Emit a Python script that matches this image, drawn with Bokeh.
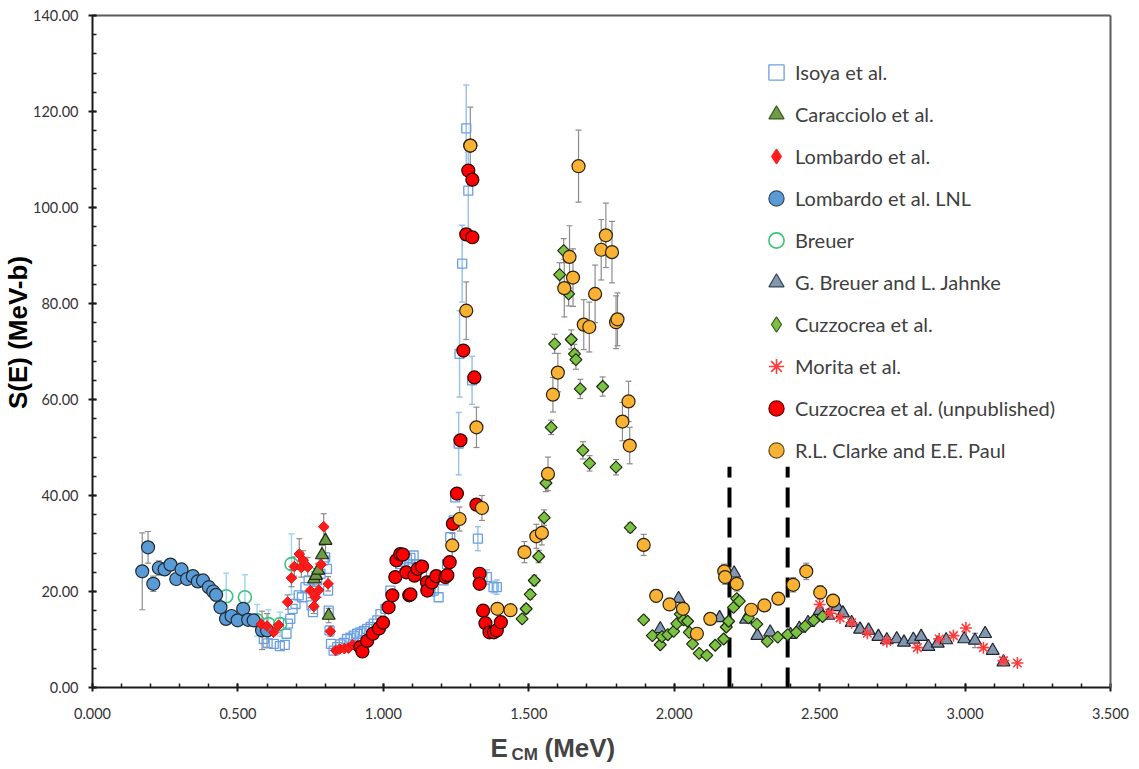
import math
from bokeh.plotting import figure
from bokeh.models import (ColumnDataSource, Whisker, TeeHead, Legend, LegendItem, Label,
                          Range1d, FixedTicker, NumeralTickFormatter, LinearAxis)
from bokeh.embed import file_html
from bokeh.resources import INLINE

# ---------------- data ----------------
isoya_x = [0.589, 0.602, 0.623, 0.644, 0.661, 0.667, 0.672, 0.680, 0.688, 0.698, 0.709, 0.720, 0.732, 0.743,
           0.753, 0.758, 0.772, 0.784, 0.795, 0.800, 0.806, 0.810, 0.812, 0.815, 0.820, 0.829, 0.841, 0.852,
           0.864, 0.875, 0.887, 0.898, 0.910, 0.921, 0.933, 0.944, 0.956, 0.967, 0.979, 0.990, 1.007, 1.024,
           1.041, 1.058, 1.070, 1.081, 1.093, 1.104, 1.115, 1.133, 1.150, 1.162, 1.173, 1.190, 1.207, 1.219,
           1.230, 1.242, 1.247, 1.259, 1.262, 1.271, 1.285, 1.292, 1.305, 1.325, 1.356, 1.379, 1.390]
isoya_y = [10.1, 9.2, 9.1, 8.6, 8.9, 11.2, 13.3, 14.3, 16.4, 17.4, 19.2, 18.8, 20.9, 22.3,
           17.1, 15.7, 22.3, 23.7, 26.5, 27.1, 24.7, 20.2, 16.0, 11.9, 9.1, 7.7, 8.4, 9.0,
           9.3, 10.1, 10.4, 10.8, 11.2, 11.5, 11.8, 12.2, 12.6, 13.3, 14.0, 15.3, 16.4, 20.2,
           23.0, 25.7, 26.2, 26.7, 27.0, 27.5, 25.7, 23.3, 20.9, 20.0, 20.2, 18.8, 22.3, 25.7,
           31.3, 34.8, 39.6, 50.8, 69.5, 88.3, 116.5, 103.5, 64.0, 31.0, 23.0, 20.9, 20.9]
isoya_err = [0] * 59 + [6.5, 9.0, 8.0, 9.0, 8.0, 5.0, 2.5, 1.5, 1.2, 1.5]

caracciolo_x = [0.762, 0.768, 0.776, 0.789, 0.801, 0.812]
caracciolo_y = [22.6, 23.3, 24.4, 27.6, 30.6, 15.0]
caracciolo_err = [1.5, 1.5, 1.5, 2.0, 2.5, 1.5]

lombardo_x = [0.580, 0.600, 0.623, 0.640, 0.671, 0.684, 0.694, 0.711, 0.718, 0.724, 0.740, 0.749, 0.761,
              0.766, 0.778, 0.786, 0.795, 0.810, 0.818, 0.836, 0.850, 0.866, 0.880, 0.895, 0.910]
lombardo_y = [13.2, 12.8, 11.5, 13.0, 17.8, 22.8, 25.2, 27.8, 25.0, 26.5, 25.1, 20.2, 16.9,
              18.8, 20.3, 25.6, 33.5, 21.6, 11.7, 7.7, 8.0, 8.1, 8.2, 8.9, 8.7]
lombardo_err = [0, 0, 0, 0, 1.5, 1.8, 2.0, 3.2, 2.0, 2.0, 2.0, 1.5, 1.5,
                1.5, 1.5, 2.0, 2.7, 1.5, 1.0, 0, 0, 0, 0, 0, 0]

lnl_x = [0.171, 0.191, 0.209, 0.228, 0.248, 0.268, 0.288, 0.306, 0.325, 0.345, 0.362, 0.380,
         0.400, 0.415, 0.425, 0.440, 0.459, 0.478, 0.499, 0.518, 0.535, 0.554, 0.583, 0.600]
lnl_y = [24.2, 29.2, 21.6, 24.9, 24.6, 25.6, 22.6, 24.6, 22.6, 23.2, 22.1, 22.3,
         20.9, 20.0, 19.3, 16.7, 14.3, 14.9, 14.0, 16.4, 14.1, 14.0, 11.9, 11.9]
lnl_err = [8.0, 3.3, 1.6, 1.5, 0, 0, 0, 0, 0, 0, 0, 0,
           0, 0, 0, 0, 0, 0, 0, 0, 0, 0, 4.0, 3.5]

breuer_x = [0.460, 0.524, 0.566, 0.605, 0.645, 0.684]
breuer_y = [19.0, 18.8, 14.0, 13.2, 13.2, 25.7]
breuer_err = [4.8, 4.7, 3.3, 3.0, 2.5, 6.3]

gbj_x = [1.952, 2.015, 2.156, 2.206, 2.247, 2.286, 2.330, 2.400, 2.430, 2.460, 2.500, 2.530, 2.560,
         2.580, 2.610, 2.639, 2.668, 2.702, 2.731, 2.765, 2.790, 2.822, 2.849, 2.874, 2.906, 2.935,
         2.997, 3.034, 3.069, 3.095, 3.132]
gbj_y = [12.2, 18.5, 14.5, 23.8, 14.2, 10.8, 11.5, 11.0, 12.3, 13.5, 16.0, 15.0, 16.8,
         15.5, 13.5, 12.1, 11.9, 10.6, 9.9, 10.1, 9.4, 10.0, 10.6, 8.5, 9.2, 9.9,
         10.1, 9.8, 11.2, 7.7, 5.3]
gbj_err = [0] * 27 + [1.5, 0, 0, 0]

cuzz_x = [1.477, 1.491, 1.505, 1.519, 1.534, 1.553, 1.559, 1.577, 1.589, 1.606, 1.620, 1.637, 1.646,
          1.657, 1.662, 1.677, 1.686, 1.709, 1.754, 1.800, 1.849, 1.895, 1.925, 1.952, 1.958, 1.978,
          1.998, 2.009, 2.021, 2.032, 2.046, 2.052, 2.063, 2.086, 2.112, 2.141, 2.170, 2.179, 2.187,
          2.204, 2.215, 2.224, 2.255, 2.284, 2.320, 2.356, 2.390, 2.420, 2.450, 2.480, 2.510]
cuzz_y = [14.3, 16.4, 19.4, 22.3, 27.3, 35.4, 42.6, 54.2, 71.6, 86.0, 91.0, 82.0, 72.5,
          69.5, 68.3, 62.2, 49.4, 46.7, 62.7, 45.9, 33.3, 14.1, 10.8, 8.9, 10.6, 11.0,
          11.7, 13.3, 15.3, 14.1, 13.8, 11.5, 9.1, 7.1, 6.7, 8.8, 10.1, 12.6, 13.8,
          16.7, 18.5, 18.0, 14.5, 13.2, 9.6, 10.5, 11.0, 11.5, 12.8, 14.0, 14.8]
cuzz_err = [0.8, 0.9, 1.0, 1.1, 1.3, 1.6, 1.8, 1.5, 2.0, 2.5, 2.5, 2.5, 2.0,
            2.0, 2.0, 2.0, 1.8, 1.6, 2.0, 1.6, 1.0] + [0] * 30

morita_x = [2.500, 2.535, 2.570, 2.610, 2.664, 2.731, 2.836, 2.911, 2.960, 3.003, 3.063, 3.132, 3.180]
morita_y = [17.3, 15.5, 14.5, 13.5, 11.3, 9.6, 8.3, 10.1, 10.8, 12.4, 8.3, 5.6, 5.1]

unpub_x = [0.921, 0.928, 0.944, 0.964, 0.985, 0.999, 1.018, 1.031, 1.041, 1.045, 1.058, 1.067, 1.079,
           1.089, 1.093, 1.107, 1.118, 1.133, 1.150, 1.151, 1.167, 1.182, 1.213, 1.220, 1.228, 1.239,
           1.253, 1.265, 1.275, 1.285, 1.292, 1.299, 1.306, 1.306, 1.313, 1.320, 1.331, 1.331, 1.343,
           1.351, 1.365, 1.380, 1.390, 1.404]
unpub_y = [8.4, 7.5, 9.7, 11.2, 12.3, 13.5, 16.7, 19.2, 23.0, 26.5, 27.8, 27.7, 24.0,
           19.2, 19.4, 23.3, 24.7, 25.2, 21.9, 20.2, 21.9, 23.2, 23.0, 23.4, 26.1, 34.1,
           40.4, 51.5, 70.2, 94.4, 107.7, 112.9, 93.8, 105.8, 64.6, 38.1, 23.7, 21.6, 16.0,
           13.4, 11.5, 11.5, 11.9, 13.6]

clarke_x = [1.237, 1.262, 1.285, 1.299, 1.320, 1.339, 1.392, 1.437, 1.485, 1.526, 1.545, 1.566, 1.583,
            1.600, 1.622, 1.640, 1.652, 1.671, 1.689, 1.708, 1.728, 1.749, 1.765, 1.786, 1.800, 1.805,
            1.822, 1.843, 1.847, 1.895, 1.938, 1.984, 2.030, 2.078, 2.124, 2.172, 2.175, 2.215, 2.265,
            2.310, 2.358, 2.409, 2.454, 2.502, 2.546]
clarke_y = [29.6, 35.1, 78.5, 112.9, 54.2, 37.4, 16.4, 16.1, 28.2, 31.5, 32.2, 44.5, 61.0,
            65.6, 83.2, 89.7, 85.4, 108.6, 75.6, 75.1, 82.0, 91.2, 94.2, 90.7, 76.1, 76.7,
            55.4, 59.6, 50.4, 29.7, 19.1, 17.3, 16.4, 11.2, 14.3, 24.2, 23.0, 21.6, 16.2,
            17.1, 18.5, 21.4, 24.2, 19.8, 18.1]
clarke_err = [2.5, 2.5, 6.0, 8.0, 4.2, 2.6, 0, 0, 2.2, 2.5, 2.5, 3.5, 3.6,
              4.0, 6.0, 6.5, 6.0, 7.5, 5.2, 5.2, 6.0, 6.3, 6.7, 6.4, 5.5, 5.5,
              4.0, 4.2, 3.8, 2.2, 1.3, 1.2, 1.2, 0.8, 1.0, 1.5, 1.5, 1.5, 1.0,
              1.1, 1.2, 1.5, 1.7, 1.4, 1.3]

threshold_x = [2.19, 2.39]
threshold_top = 46.0

x_ticks = [0.0, 0.5, 1.0, 1.5, 2.0, 2.5, 3.0, 3.5]
y_ticks = [0, 20, 40, 60, 80, 100, 120, 140]
x_lim = (0.0, 3.5)
y_lim = (0.0, 140.0)

legend_labels = ["Isoya et al.", "Caracciolo et al.", "Lombardo et al.", "Lombardo et al. LNL", "Breuer",
                 "G. Breuer and L. Jahnke", "Cuzzocrea et al.", "Morita et al.",
                 "Cuzzocrea et al. (unpublished)", "R.L. Clarke and E.E. Paul"]

# ---------------- layout geometry (pixels) ----------------
W, H = 1139, 769
LEFT, RIGHT, TOP, BOTTOM = 92, 1110, 15, 687          # plot box edges in the canvas
xs_per_px = (x_lim[1] - x_lim[0]) / (RIGHT - LEFT)
ys_per_px = (y_lim[1] - y_lim[0]) / (BOTTOM - TOP)
x_range = Range1d(x_lim[0] - LEFT * xs_per_px, x_lim[1] + (W - RIGHT) * xs_per_px)
y_range = Range1d(y_lim[0] - (H - BOTTOM) * ys_per_px, y_lim[1] + TOP * ys_per_px)

def px_x(px):
    return x_lim[0] + (px - LEFT) * xs_per_px

def px_y(py):
    return y_lim[0] + (BOTTOM - py) * ys_per_px

p = figure(width=W, height=H, output_backend="svg", toolbar_location=None, title=None,
           x_range=x_range, y_range=y_range,
           min_border=0, min_border_left=0, min_border_right=0, min_border_top=0, min_border_bottom=0)
p.background_fill_color = "white"
p.border_fill_color = "white"
p.grid.visible = False
p.outline_line_color = None

p.xaxis.ticker = FixedTicker(ticks=x_ticks, minor_ticks=[i / 10 for i in range(0, 36)])
p.yaxis.ticker = FixedTicker(ticks=y_ticks, minor_ticks=list(range(0, 141, 4)))
p.xaxis.formatter = NumeralTickFormatter(format="0.000")
p.yaxis.formatter = NumeralTickFormatter(format="0.00")
p.xaxis.fixed_location = y_lim[0]
p.yaxis.fixed_location = x_lim[0]
p.xaxis.bounds = x_lim
p.yaxis.bounds = y_lim
for ax in (p.xaxis, p.yaxis):
    ax.axis_line_color = "#1a1a1a"
    ax.axis_line_width = 2
    ax.major_tick_line_color = "#1a1a1a"
    ax.major_tick_line_width = 2
    ax.minor_tick_line_color = "#1a1a1a"
    ax.minor_tick_line_width = 1.5
    ax.major_tick_in = 4
    ax.major_tick_out = 4
    ax.minor_tick_in = 4
    ax.minor_tick_out = 0
    ax.major_label_text_font = "Lato"
    ax.major_label_text_font_size = "14.5px"
    ax.major_label_text_color = "#333333"
p.xaxis.major_label_standoff = 16
p.yaxis.major_label_standoff = 10

# box lines on top and right
top_ax = LinearAxis(fixed_location=y_lim[1], bounds=x_lim, ticker=FixedTicker(ticks=[]),
                    axis_line_color="#5a5a5a", axis_line_width=2, major_label_text_alpha=0)
right_ax = LinearAxis(fixed_location=x_lim[1], bounds=y_lim, ticker=FixedTicker(ticks=[]),
                      axis_line_color="#5a5a5a", axis_line_width=2, major_label_text_alpha=0)
p.add_layout(top_ax, "above")
p.add_layout(right_ax, "right")

# error bars
def add_err(xs, ys, es, color, width=1.2, head=6):
    sel = [(x, y, e) for x, y, e in zip(xs, ys, es) if e > 0]
    if not sel:
        return
    src = ColumnDataSource(dict(x=[s[0] for s in sel],
                                lo=[s[1] - s[2] for s in sel],
                                hi=[s[1] + s[2] for s in sel]))
    w = Whisker(source=src, base="x", lower="lo", upper="hi", dimension="height",
                line_color=color, line_width=width,
                upper_head=TeeHead(size=head, line_color=color, line_width=width),
                lower_head=TeeHead(size=head, line_color=color, line_width=width))
    p.add_layout(w)

add_err(isoya_x, isoya_y, isoya_err, "#9cc3ea", 1.5)
add_err(breuer_x, breuer_y, breuer_err, "#9fd8ea", 1.5)
add_err(lnl_x, lnl_y, lnl_err, "#8c8c8c")
add_err(caracciolo_x, caracciolo_y, caracciolo_err, "#8c8c8c")
add_err(lombardo_x, lombardo_y, lombardo_err, "#8c8c8c")
add_err(gbj_x, gbj_y, gbj_err, "#8c8c8c")
add_err(cuzz_x, cuzz_y, cuzz_err, "#8c8c8c")
add_err(clarke_x, clarke_y, clarke_err, "#8c8c8c")

# threshold dashed lines
p.segment(x0=threshold_x, y0=[y_lim[0]] * 2, x1=threshold_x, y1=[threshold_top] * 2,
          line_color="black", line_width=4, line_dash="20 10")

D = math.pi / 4
p.scatter(isoya_x, isoya_y, marker="square", size=9, fill_alpha=0, line_color="#6a9fe0", line_width=1.3)
p.scatter(breuer_x, breuer_y, marker="circle", size=13, fill_alpha=0, line_color="#3cc47c", line_width=1.6)
p.scatter(lnl_x, lnl_y, marker="circle", size=13, fill_color="#5b9bd5", line_color="#1e2b38", line_width=1.2)
p.scatter(caracciolo_x, caracciolo_y, marker="triangle", size=13, fill_color="#6f9b45", line_color="#1e2a12", line_width=1.2)
p.scatter(lombardo_x, lombardo_y, marker="square", angle=D, size=7.5, fill_color="#ff1a1a", line_color="#e81010", line_width=1)
p.scatter(gbj_x, gbj_y, marker="triangle", size=13, fill_color="#8497b0", line_color="#1e2530", line_width=1.2)
p.scatter(cuzz_x, cuzz_y, marker="square", angle=D, size=8.5, fill_color="#7cc242", line_color="#1f2a12", line_width=1.2)
p.scatter(morita_x, morita_y, marker="asterisk", size=12, line_color="#ff3b3b", line_width=1.6)
p.scatter(unpub_x, unpub_y, marker="circle", size=13, fill_color="#ff0000", line_color="#2a0000", line_width=1.2)
p.scatter(clarke_x, clarke_y, marker="circle", size=13, fill_color="#f9b233", line_color="#2b2210", line_width=1.2)

# legend proxies (not drawn in the plot: NaN position)
proxy_styles = [
    dict(marker="square", fill_alpha=0, line_color="#6a9fe0", line_width=1.3),
    dict(marker="triangle", fill_color="#6f9b45", line_color="#3c5a22", line_width=1.2),
    dict(marker="diamond", fill_color="#ff1a1a", line_color="#ff1a1a", line_width=1),
    dict(marker="circle", fill_color="#5b9bd5", line_color="#2e4a66", line_width=1.2),
    dict(marker="circle", fill_alpha=0, line_color="#3cc47c", line_width=1.6),
    dict(marker="triangle", fill_color="#8497b0", line_color="#3a4658", line_width=1.2),
    dict(marker="diamond", fill_color="#7cc242", line_color="#3c5a22", line_width=1.2),
    dict(marker="asterisk", line_color="#ff3b3b", line_width=1.6),
    dict(marker="circle", fill_color="#ff0000", line_color="#5a0000", line_width=1.2),
    dict(marker="circle", fill_color="#f9b233", line_color="#5a4a20", line_width=1.2),
]
items = []
for lab, st in zip(legend_labels, proxy_styles):
    r = p.scatter(x=[float("nan")], y=[float("nan")], **st)
    items.append(LegendItem(label=lab, renderers=[r]))
legend = Legend(items=items, location=(757, H - 469), glyph_width=38, glyph_height=38, spacing=4,
                padding=0, margin=0, label_standoff=0, border_line_color=None,
                background_fill_alpha=0, label_text_font="Lato", label_text_font_size="20px",
                label_text_color="#404040")
p.add_layout(legend, "center")

# axis titles
p.add_layout(Label(x=px_x(17), y=px_y(332), text="S(E) (MeV-b)", angle=math.pi / 2, text_align="center",
                   text_baseline="middle", text_font="Liberation Sans", text_font_style="bold",
                   text_font_size="26px", text_color="#000000"))
p.add_layout(Label(x=px_x(490), y=px_y(747), text="E", text_align="left", text_baseline="alphabetic",
                   text_font="Liberation Sans", text_font_style="bold", text_font_size="26px"))
p.add_layout(Label(x=px_x(511), y=px_y(754), text="CM", text_align="left", text_baseline="alphabetic",
                   text_font="Liberation Sans", text_font_style="bold", text_font_size="17px"))
p.add_layout(Label(x=px_x(544), y=px_y(747), text="(MeV)", text_align="left", text_baseline="alphabetic",
                   text_font="Liberation Sans", text_font_style="bold", text_font_size="26px"))

open("out.html", "w").write(file_html(p, INLINE))
